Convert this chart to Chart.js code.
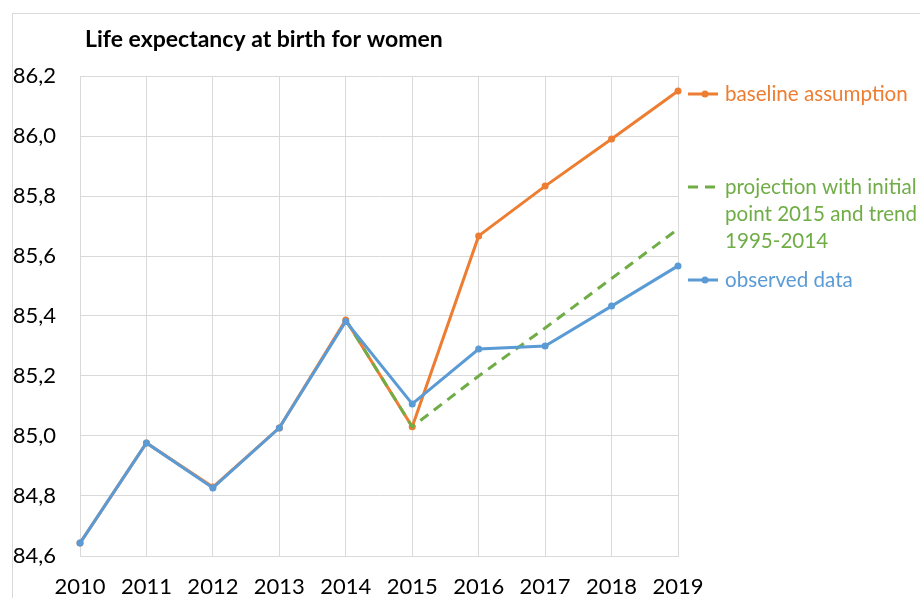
<!DOCTYPE html>
<html>
<head>
<meta charset="utf-8">
<script src="https://cdn.jsdelivr.net/npm/chart.js@4"></script>
<style>
html, body { margin: 0; padding: 0; background: #fff; }
#wrap { position: relative; width: 920px; height: 598px; overflow: hidden; }
#frame { position: absolute; left: 12px; top: 13px; width: 920px; height: 600px; border: 1px solid #d9d9d9; }
canvas { position: absolute; left: 0; top: 0; }
</style>
</head>
<body>
<div id="wrap">
	<div id="frame"></div>
	<canvas id="lifeChart" width="920" height="598"></canvas>
</div>
<script>
const chartTitle = 'Life expectancy at birth for women';
const years = ['2010', '2011', '2012', '2013', '2014', '2015', '2016', '2017', '2018', '2019'];

// observed data (blue)
const observed = [84.643, 84.977, 84.827, 85.027, 85.382, 85.107, 85.29, 85.3, 85.433, 85.567];
// baseline assumption (orange)
const baseline = [84.643, 84.977, 84.83, 85.027, 85.387, 85.031, 85.667, 85.833, 85.99, 86.15];
// projection, initial point 2015, trend 1995-2014 (green, dashed)
const projection = [null, null, null, null, 85.387, 85.031, 85.2, 85.36, 85.525, 85.69];

const blue = '#5b9bd5';
const orange = '#ed7d31';
const green = '#70ad47';
const gridColor = '#d9d9d9';

// labels drawn to the right of the plot, like the Excel data labels
const legendItems = [
	{ lines: ['baseline assumption'], color: orange, dashed: false, y: 94 },
	{ lines: ['projection with initial', 'point 2015 and trend', '1995-2014'], color: green, dashed: true, y: 187 },
	{ lines: ['observed data'], color: blue, dashed: false, y: 280 },
];

const sideLabels = {
	id: 'sideLabels',
	afterDraw(chart) {
		const ctx = chart.ctx;
		ctx.save();
		ctx.textBaseline = 'middle';
		ctx.font = 'bold 23px Lato';
		ctx.fillStyle = '#000';
		ctx.fillText(chartTitle, 85, 40);

		ctx.font = '20.6px Lato';
		legendItems.forEach(item => {
			ctx.strokeStyle = item.color;
			ctx.fillStyle = item.color;
			ctx.lineWidth = 3;
			ctx.setLineDash(item.dashed ? [10, 7] : []);
			ctx.beginPath();
			ctx.moveTo(688, item.y);
			ctx.lineTo(718, item.y);
			ctx.stroke();
			ctx.setLineDash([]);
			if (!item.dashed) {
				ctx.beginPath();
				ctx.arc(705, item.y, 3.5, 0, Math.PI * 2);
				ctx.fill();
			}
			item.lines.forEach((line, i) => {
				ctx.fillText(line, 725, item.y + i * 27);
			});
		});
		ctx.restore();
	}
};

const config = {
	type: 'line',
	data: {
		labels: years,
		datasets: [
			{
				label: 'observed data',
				data: observed,
				borderColor: blue,
				backgroundColor: blue,
				borderWidth: 3,
				pointRadius: 3.5,
				pointBorderWidth: 0,
			},
			{
				label: 'projection with initial point 2015 and trend 1995-2014',
				data: projection,
				borderColor: green,
				borderWidth: 3,
				borderDash: [10, 7],
				pointRadius: 0,
				spanGaps: false,
			},
			{
				label: 'baseline assumption',
				data: baseline,
				borderColor: orange,
				backgroundColor: orange,
				borderWidth: 3,
				pointRadius: 3.5,
				pointBorderWidth: 0,
			},
		],
	},
	options: {
		responsive: false,
		animation: false,
		layout: { padding: { left: 12, top: 76, right: 242, bottom: 0 } },
		plugins: {
			legend: { display: false },
			tooltip: { enabled: false },
		},
		scales: {
			x: {
				grid: { color: gridColor, drawTicks: false },
				border: { color: gridColor },
				ticks: { color: '#000', font: { family: 'Lato', size: 22 }, padding: 18, maxRotation: 0 },
				afterFit(scale) { scale.height = 42; },
			},
			y: {
				min: 84.6,
				max: 86.2,
				grid: { color: gridColor, drawTicks: false },
				border: { color: gridColor },
				ticks: {
					stepSize: 0.2,
					color: '#000',
					font: { family: 'Lato', size: 22 },
					padding: 24,
					callback: value => value.toFixed(1).replace('.', ','),
				},
				afterFit(scale) { scale.width = 68; },
			},
		},
	},
	plugins: [sideLabels],
};

const lifeChart = new Chart(document.getElementById('lifeChart'), config);
</script>
</body>
</html>
